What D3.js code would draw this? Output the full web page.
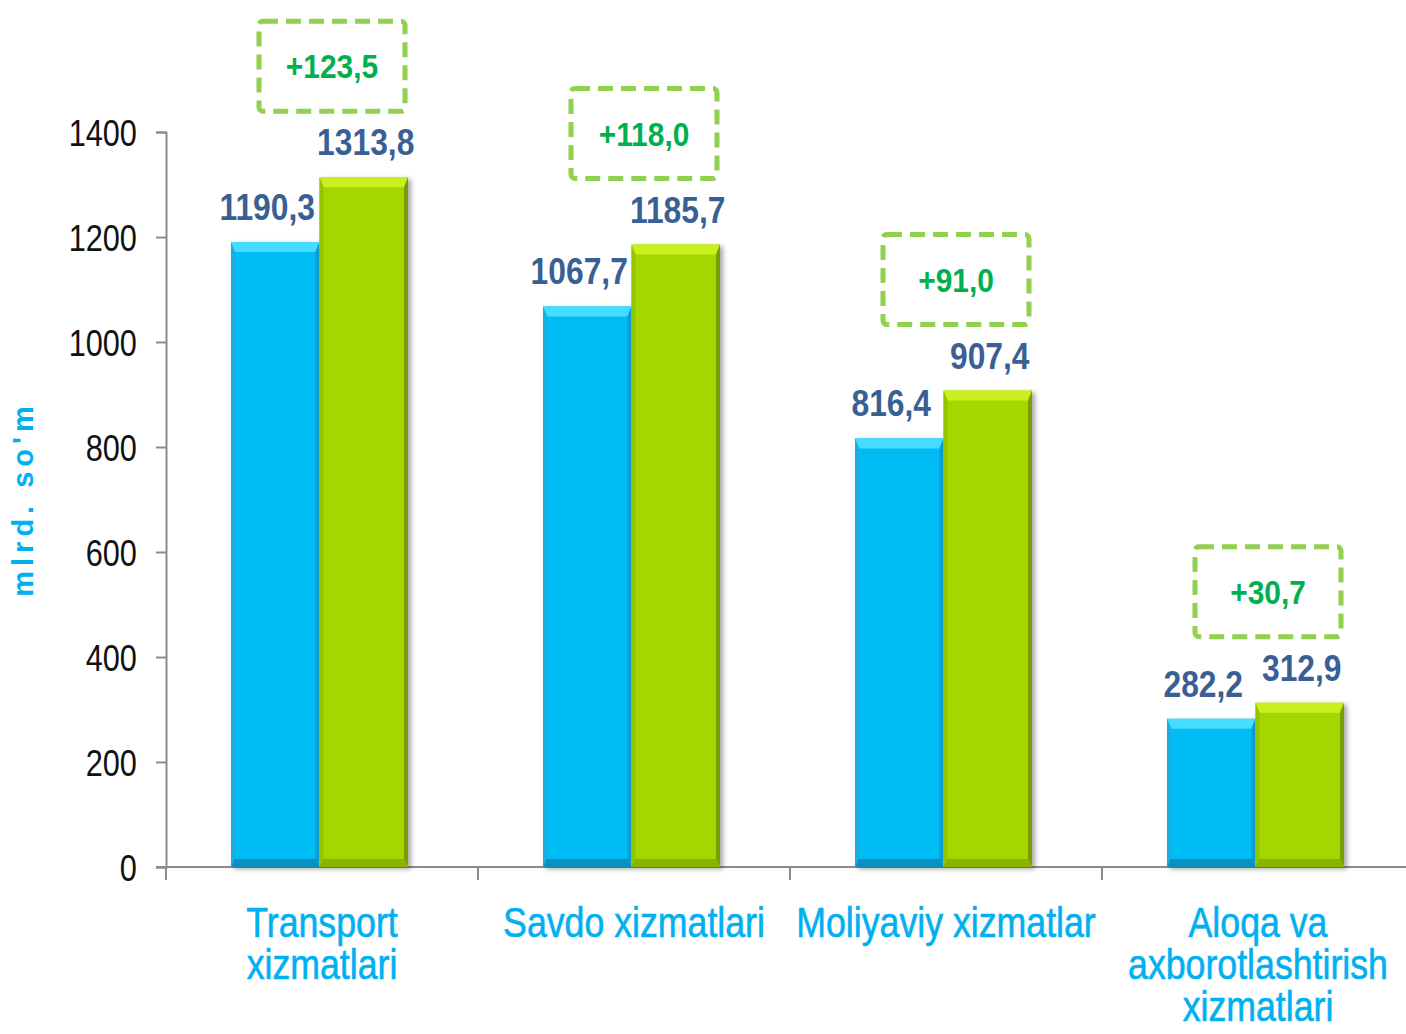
<!DOCTYPE html>
<html>
<head>
<meta charset="utf-8">
<script src="https://cdn.jsdelivr.net/npm/d3@7"></script>
<style>
  body { margin: 0; background: #fff; }
  svg { display: block; }
  .tick-label { font-family: "Liberation Sans", Arial, sans-serif; font-size: 37px; fill: #111; }
  .val { font-family: "Liberation Sans", Arial, sans-serif; font-weight: bold; font-size: 37px; fill: #3a5f95; }
  .cat { font-family: "Liberation Sans", Arial, sans-serif; font-size: 42px; fill: #00b0f0; stroke: #00b0f0; stroke-width: 0.6px; }
  .delta { font-family: "Liberation Sans", Arial, sans-serif; font-weight: bold; font-size: 34px; fill: #00b050; }
</style>
</head>
<body>
<script>
var w = 1406;
var h = 1034;

// chart values
var categories = [
  ["Transport", "xizmatlari"],
  ["Savdo xizmatlari"],
  ["Moliyaviy xizmatlar"],
  ["Aloqa va", "axborotlashtirish", "xizmatlari"]
];
var prevValues = [1190.3, 1067.7, 816.4, 282.2];
var currValues = [1313.8, 1185.7, 907.4, 312.9];
var yTicks = [0, 200, 400, 600, 800, 1000, 1200, 1400];
var yTitle = "mlrd. so'm";

var fmt = function(v) { return d3.format(".1f")(v).replace(".", ","); };

var svg = d3.select("body")
    .append("svg")
    .attr("width", w)
    .attr("height", h);

var defs = svg.append("defs");
var sh = defs.append("filter").attr("id", "shadow")
    .attr("x", "-10%").attr("y", "-10%").attr("width", "130%").attr("height", "130%");
sh.append("feDropShadow")
    .attr("dx", 3).attr("dy", 2).attr("stdDeviation", 2.5)
    .attr("flood-color", "#000").attr("flood-opacity", 0.35);

var xScale = d3.scaleBand()
    .domain(d3.range(categories.length))
    .range([166, 1414]);

var xSub = d3.scaleBand()
    .domain([0, 1])
    .range([65, 242]);

var yScale = d3.scaleLinear()
    .domain([0, 1400])
    .range([867, 132]);

// y axis
var yAxis = d3.axisLeft(yScale)
    .tickValues(yTicks)
    .tickSize(10)
    .tickPadding(25)
    .tickFormat(d3.format("d"));

var gy = svg.append("g")
    .attr("transform", "translate(166,0)")
    .call(yAxis);
gy.select(".domain").attr("stroke", "#8c8c8c").attr("stroke-width", 2);
gy.selectAll(".tick line").attr("stroke", "#8c8c8c").attr("stroke-width", 2);
gy.selectAll(".tick text")
    .attr("class", "tick-label")
    .attr("dy", "0.36em")
    .attr("transform", "scale(0.83,1)");

// x axis
svg.append("line")
    .attr("x1", 156).attr("x2", 1414)
    .attr("y1", yScale(0)).attr("y2", yScale(0))
    .attr("stroke", "#8c8c8c").attr("stroke-width", 2);

svg.selectAll(".xtick")
    .data(d3.range(categories.length + 1))
    .enter().append("line")
    .attr("class", "xtick")
    .attr("x1", function(d) { return 166 + d * xScale.step(); })
    .attr("x2", function(d) { return 166 + d * xScale.step(); })
    .attr("y1", yScale(0))
    .attr("y2", yScale(0) + 13)
    .attr("stroke", "#8c8c8c").attr("stroke-width", 2);

// bars with bevel
var palettes = [
  { main: "#00bcf4", top: "#45dcff", left: "#18aee4", right: "#0a9dd2", bottom: "#0a8fc0" },
  { main: "#a4d600", top: "#c9ef1e", left: "#94c400", right: "#789e00", bottom: "#89b300" }
];

function drawBar(g, x0, bw, yT, yB, p) {
  var x1 = x0 + bw;
  var bt = 10, bs = 4, bb = 8;
  g.append("rect")
      .attr("x", x0).attr("y", yT)
      .attr("width", bw).attr("height", yB - yT)
      .attr("fill", p.main)
      .attr("filter", "url(#shadow)");
  g.append("polygon")
      .attr("points", [[x0, yT], [x1, yT], [x1 - bs, yT + bt], [x0 + bs, yT + bt]].join(" "))
      .attr("fill", p.top);
  g.append("polygon")
      .attr("points", [[x0, yT], [x0 + bs, yT + bt], [x0 + bs, yB - bb], [x0, yB]].join(" "))
      .attr("fill", p.left);
  g.append("polygon")
      .attr("points", [[x1, yT], [x1 - bs, yT + bt], [x1 - bs, yB - bb], [x1, yB]].join(" "))
      .attr("fill", p.right);
  g.append("polygon")
      .attr("points", [[x0, yB], [x0 + bs, yB - bb], [x1 - bs, yB - bb], [x1, yB]].join(" "))
      .attr("fill", p.bottom);
}

var bars = svg.append("g");
[prevValues, currValues].forEach(function(series, s) {
  series.forEach(function(v, i) {
    drawBar(bars, xScale(i) + xSub(s), xSub.bandwidth(), yScale(v), yScale(0), palettes[s]);
  });
});

// value labels (condensed with scaleX)
function labelPos(s, dx) {
  return function(d, i) {
    var x = xScale(i) + xSub(s) + xSub.bandwidth() / 2 + dx;
    return "translate(" + x + "," + (yScale(d) - 22) + ") scale(0.86,1)";
  };
}

svg.selectAll(".val-prev")
    .data(prevValues)
    .enter().append("text")
    .attr("class", "val")
    .attr("text-anchor", "middle")
    .attr("transform", labelPos(0, -8))
    .text(fmt);

svg.selectAll(".val-curr")
    .data(currValues)
    .enter().append("text")
    .attr("class", "val")
    .attr("text-anchor", "middle")
    .attr("transform", labelPos(1, 2))
    .text(fmt);

// growth boxes
var boxW = 146, boxH = 90;
var boxes = svg.selectAll(".box")
    .data(currValues)
    .enter().append("g")
    .attr("transform", function(d, i) {
      var cx = xScale(i) + xScale.bandwidth() / 2 + 10;
      return "translate(" + (cx - boxW / 2) + "," + (yScale(d) - 66 - boxH) + ")";
    });

boxes.append("rect")
    .attr("width", boxW).attr("height", boxH)
    .attr("rx", 4)
    .attr("fill", "none")
    .attr("stroke", "#92d050")
    .attr("stroke-width", 5)
    .attr("stroke-dasharray", "15 8");

boxes.append("text")
    .attr("class", "delta")
    .attr("text-anchor", "middle")
    .attr("transform", "translate(" + (boxW / 2) + "," + (boxH / 2 + 12) + ") scale(0.88,1)")
    .text(function(d, i) { return "+" + fmt(d - prevValues[i]); });

// category labels
var cats = svg.selectAll(".cat")
    .data(categories)
    .enter().append("text")
    .attr("class", "cat")
    .attr("text-anchor", "middle")
    .attr("transform", function(d, i) {
      return "translate(" + (xScale(i) + xScale.bandwidth() / 2) + ",937) scale(0.85,1)";
    });

cats.selectAll("tspan")
    .data(function(d) { return d; })
    .enter().append("tspan")
    .attr("x", 0)
    .attr("dy", function(d, i) { return i === 0 ? 0 : 42; })
    .text(function(d) { return d; });

// y title
svg.append("text")
    .attr("transform", "translate(33,499) rotate(-90)")
    .attr("text-anchor", "middle")
    .attr("font-family", "Liberation Sans, Arial, sans-serif")
    .attr("font-weight", "bold")
    .attr("font-size", 29)
    .attr("letter-spacing", 5)
    .attr("fill", "#00b0f0")
    .text(yTitle);
</script>
</body>
</html>
